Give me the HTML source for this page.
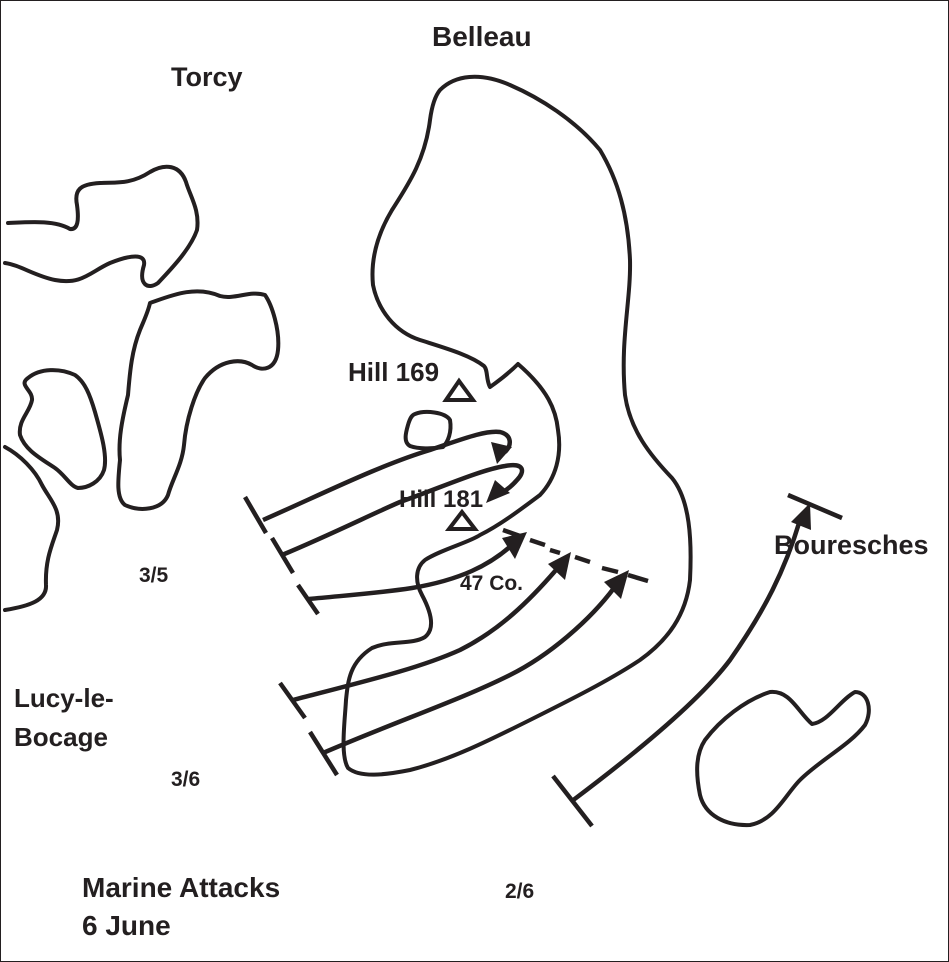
<!DOCTYPE html>
<html><head><meta charset="utf-8"><style>
html,body{margin:0;padding:0;background:#fff}
svg{display:block}
text{font-family:"Liberation Sans",sans-serif;fill:#231f20;font-weight:bold}
</style></head><body>
<svg width="949" height="962" viewBox="0 0 949 962" xmlns="http://www.w3.org/2000/svg">
<rect x="0.5" y="0.5" width="948" height="961" fill="#fff" stroke="#231f20" stroke-width="1"/>
<g fill="none" stroke="#231f20" stroke-width="4" stroke-linecap="round" stroke-linejoin="round">
<path d="M8,223 C30,222 55,220 70,229 C78,230 79,220 77,205 C74,190 80,184 100,183 C115,182 130,185 150,172 C165,163 180,165 186,182 C190,196 200,210 197,230 C190,250 170,270 158,283 C148,290 138,285 144,265 C146,253 130,255 110,263 C90,272 82,285 55,280 C35,276 20,265 5,263"/>
<path d="M150,303 C170,296 195,285 220,296 C235,300 250,290 265,295 C272,305 280,330 278,350 C276,370 262,372 252,365 C240,358 220,360 205,378 C195,392 186,420 184,445 C182,465 172,480 168,495 C162,510 140,512 125,505 C116,498 118,480 120,460 C118,440 122,420 128,395 C130,370 132,350 140,330 C145,318 148,312 150,303 Z"/>
<path d="M28,378 C40,368 60,368 75,375 C85,382 90,395 95,412 C100,430 108,455 104,470 C100,482 88,488 78,488 C70,486 65,475 55,468 C40,458 25,450 20,435 C18,420 30,412 32,400 C33,390 18,385 28,378 Z"/>
<path d="M5,447 C20,455 35,470 42,485 C50,500 62,510 57,530 C52,545 45,560 46,585 C47,600 30,606 5,610"/>
<path d="M440,90 C455,75 480,72 510,85 C540,98 575,120 600,150 C618,180 628,215 630,260 C631,300 620,340 625,395 C630,430 650,455 672,478 C690,500 692,540 690,580 C686,615 668,640 640,660 C610,680 570,700 530,720 C490,740 450,760 410,770 C385,775 360,778 348,768 C340,755 345,720 346,700 C348,680 350,662 372,648 C390,640 412,645 425,637 C436,628 430,610 422,595 C415,582 415,568 425,560 C440,550 470,542 480,535 C500,525 520,510 540,495 C556,478 562,455 558,430 C556,410 548,390 518,364 C510,372 500,380 490,387 C486,380 488,370 484,366 C470,355 445,348 420,340 C395,332 378,310 373,285 C370,255 380,230 392,210 C408,185 425,160 430,120 C432,105 435,96 440,90 Z"/>
<path d="M415,414 C425,410 445,412 450,420 C452,432 448,442 443,447 C432,449 418,449 410,446 C403,442 406,432 408,425 C410,418 412,415 415,414 Z"/>
<path d="M705,740 C720,720 745,700 770,692 C790,690 798,712 812,724 C828,722 840,700 855,692 C868,692 873,710 865,725 C850,745 820,760 800,780 C785,795 775,820 750,825 C725,826 705,815 700,795 C696,775 695,755 705,740 Z"/>
</g>
<g fill="none" stroke="#231f20" stroke-width="4" stroke-linejoin="miter">
<path d="M459,381 L446,400 L473,400 Z"/>
<path d="M462,512 L449,529 L475,529 Z"/>
</g>
<g fill="none" stroke="#231f20" stroke-width="4.5" stroke-linecap="butt">
<path d="M245,497 L266,533"/>
<path d="M263,520 C320,495 380,465 430,450 C460,440 485,430 500,432 C512,435 512,445 505,452"/>
<path d="M272,538 L293,573"/>
<path d="M282,555 C330,535 370,515 400,502 C440,488 480,470 505,466 C525,462 525,472 517,480 C512,486 505,491 500,494"/>
<path d="M298,585 L318,614"/>
<path d="M309,599 C350,595 380,593 412,588 C460,580 490,565 512,545"/>
<path d="M280,683 L305,718"/>
<path d="M293,700 C370,680 420,668 460,650 C500,630 530,600 556,570"/>
<path d="M310,732 L337,775"/>
<path d="M323,753 C400,720 460,700 510,675 C550,655 590,620 614,588"/>
<path d="M553,776 L592,826"/>
<path d="M572,801 C640,750 700,700 730,660 C765,610 785,570 800,520"/>
<path d="M788,495 L842,518"/>
<path d="M503,530 L520,536 M530,540 L545,545" />
<path d="M550,550 L560,553 M575,557 L590,562"/>
<path d="M602,568 L618,572 M628,575 L648,581"/>
</g>
<g fill="#231f20" stroke="none">
<path d="M497,464 L491,442 L512,447 Z"/>
<path d="M486,503 L495,480 L510,493 Z"/>
<path d="M527,532 L502,538 L515,559 Z"/>
<path d="M571,552 L548,564 L565,580 Z"/>
<path d="M629,570 L604,582 L621,599 Z"/>
<path d="M810,503 L791,522 L811,530 Z"/>
</g>
<g>
<text x="432" y="46" font-size="28">Belleau</text>
<text x="171" y="86" font-size="27">Torcy</text>
<text x="348" y="381" font-size="26">Hill 169</text>
<text x="399" y="507" font-size="24">Hill 181</text>
<text x="460" y="590" font-size="21">47 Co.</text>
<text x="774" y="554" font-size="27">Bouresches</text>
<text x="139" y="582" font-size="21">3/5</text>
<text x="14" y="707" font-size="26">Lucy-le-</text>
<text x="14" y="746" font-size="26">Bocage</text>
<text x="171" y="786" font-size="21">3/6</text>
<text x="82" y="897" font-size="28">Marine Attacks</text>
<text x="82" y="935" font-size="28">6 June</text>
<text x="505" y="898" font-size="21">2/6</text>
</g>
</svg>
</body></html>
